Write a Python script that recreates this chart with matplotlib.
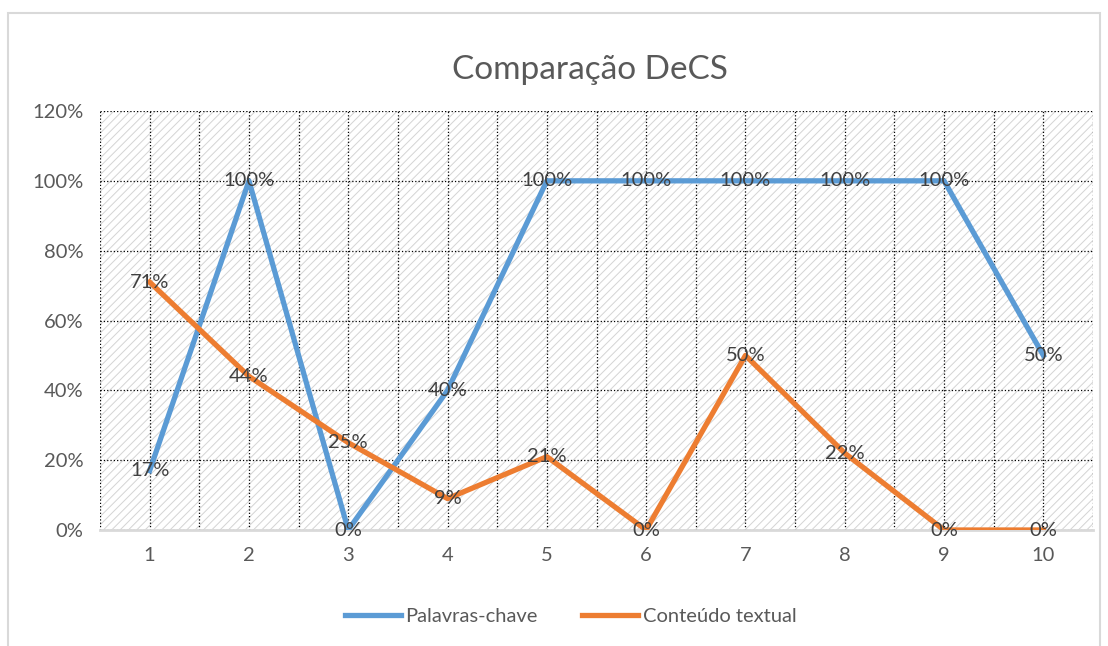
import numpy as np
import matplotlib.pyplot as plt
from matplotlib.patches import Rectangle
from matplotlib.ticker import MultipleLocator, FuncFormatter

plt.rcParams['font.family'] = ['Lato', 'DejaVu Sans']
plt.rcParams['hatch.linewidth'] = 0.7

categorias = [1, 2, 3, 4, 5, 6, 7, 8, 9, 10]
palavras_chave = [0.17, 1.00, 0.00, 0.40, 1.00, 1.00, 1.00, 1.00, 1.00, 0.50]
conteudo_textual = [0.71, 0.44, 0.25, 0.09, 0.21, 0.00, 0.50, 0.22, 0.00, 0.00]

cinza = '#595959'
azul = '#5B9BD5'
laranja = '#ED7D31'

fig = plt.figure(figsize=(11.08, 6.46), dpi=100)
# moldura do gráfico
fig.patches.append(Rectangle((8 / 1108, -0.05), 1092 / 1108, 1.05 - 13 / 646,
                             transform=fig.transFigure, facecolor='none',
                             edgecolor='#d9d9d9', linewidth=1.5))
ax = fig.add_axes([100 / 1108, 1 - 530 / 646, 993 / 1108, 419 / 646])

# fundo tracejado
ax.add_patch(Rectangle((0, 0), 1, 1, transform=ax.transAxes, facecolor='white',
                       edgecolor='#d4d4d4', hatch='////', linewidth=0, zorder=0))

ax.plot(categorias, palavras_chave, color=azul, lw=3.8, label='Palavras-chave', zorder=3)
ax.plot(categorias, conteudo_textual, color=laranja, lw=3.8, label='Conteúdo textual', zorder=3)

for x, y in zip(categorias, palavras_chave):
    ax.text(x, y, f'{round(y * 100)}%', ha='center', va='center', fontsize=14.5,
            color='#404040', zorder=4)
for x, y in zip(categorias, conteudo_textual):
    ax.text(x, y, f'{round(y * 100)}%', ha='center', va='center', fontsize=14.5,
            color='#404040', zorder=4)

ax.set_xlim(0.5, 10.5)
ax.set_ylim(0, 1.2)
ax.set_xticks(categorias)
ax.xaxis.set_minor_locator(MultipleLocator(1, offset=0.5))
ax.yaxis.set_major_locator(MultipleLocator(0.2))
ax.yaxis.set_major_formatter(FuncFormatter(lambda v, p: f'{round(v * 100)}%'))
ax.grid(True, which='major', color='black', linestyle=':', linewidth=0.9, zorder=1)
ax.grid(True, which='minor', axis='x', color='black', linestyle=':', linewidth=0.9, zorder=1)
ax.set_axisbelow(True)

ax.tick_params(axis='both', which='both', length=0, labelsize=14.5, labelcolor=cinza)
ax.tick_params(axis='x', pad=12)
ax.tick_params(axis='y', pad=12)
for s in ['top', 'right', 'left']:
    ax.spines[s].set_visible(False)
ax.spines['bottom'].set_color('#d9d9d9')
ax.spines['bottom'].set_linewidth(2)

fig.text(0.532, 1 - 70 / 646, 'Comparação DeCS', ha='center', va='center',
         fontsize=24, color=cinza)

fig.legend(loc='center', bbox_to_anchor=(0.515, 1 - 616 / 646), ncol=2, frameon=False,
           fontsize=14.5, labelcolor=cinza, handlelength=2.8, columnspacing=2.2,
           handletextpad=0.2)

fig.savefig('out.png', dpi=100)
